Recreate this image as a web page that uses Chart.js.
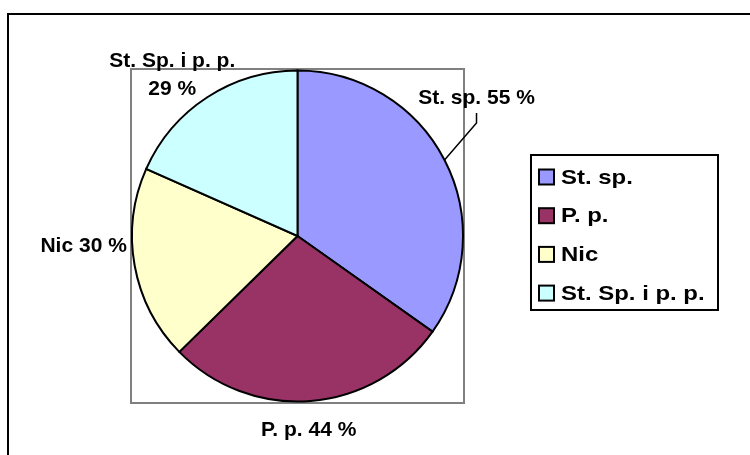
<!DOCTYPE html>
<html>
<head>
<meta charset="utf-8">
<script src="https://cdn.jsdelivr.net/npm/chart.js@4/dist/chart.umd.min.js"></script>
<style>
  html, body { margin: 0; padding: 0; background: #fff; }
  #wrap { width: 750px; height: 455px; position: relative; }
</style>
</head>
<body>
<div id="wrap"><canvas id="pieChart" width="750" height="455"></canvas></div>
<script>
const categories = ['St. sp.', 'P. p.', 'Nic', 'St. Sp. i p. p.'];
const counts = [55, 44, 30, 29];
const sliceColors = ['#9999FF', '#993366', '#FFFFCC', '#CCFFFF'];

const FONT = 'bold 21px "Liberation Sans", Arial, sans-serif';

// frame, plot box, legend and labels drawn by hand
const decor = {
  id: 'decor',
  beforeDraw(chart) {
    const c = chart.ctx;
    const a = chart.chartArea;
    c.save();
    c.fillStyle = '#fff';
    c.fillRect(0, 0, chart.width, chart.height);
    c.strokeStyle = '#000';
    c.lineWidth = 2;
    c.strokeRect(8, 14, 760, 460);
    c.strokeStyle = '#808080';
    c.lineWidth = 2;
    c.strokeRect(a.left, a.top, a.right - a.left, a.bottom - a.top);
    c.restore();
  },
  afterDraw(chart) {
    const c = chart.ctx;
    const arcs = chart.getDatasetMeta(0).data;
    const nudge = [[32, -62], [-2, 29], [-51, -19], [-35, -22]];
    c.save();
    c.font = FONT;
    c.fillStyle = '#000';
    c.textAlign = 'center';
    c.textBaseline = 'middle';
    arcs.forEach((arc, i) => {
      const mid = (arc.startAngle + arc.endAngle) / 2;
      const ex = arc.x + Math.cos(mid) * arc.outerRadius;
      const ey = arc.y + Math.sin(mid) * arc.outerRadius;
      const lx = ex + nudge[i][0];
      const ly = ey + nudge[i][1];
      const txt = counts[i] + ' %';
      if (i === 3) {
        c.fillText(categories[i], lx, ly - 14);
        c.fillText(txt, lx, ly + 14);
      } else {
        c.fillText(categories[i] + ' ' + txt, lx, ly);
      }
      if (i === 0) {
        c.strokeStyle = '#000';
        c.lineWidth = 1.5;
        c.beginPath();
        c.moveTo(lx, ly + 15);
        c.lineTo(lx, ly + 25);
        c.lineTo(ex, ey);
        c.stroke();
      }
    });

    // legend
    const bx = 531, by = 155, bw = 187, bh = 155;
    c.strokeStyle = '#000';
    c.lineWidth = 2;
    c.strokeRect(bx, by, bw, bh);
    c.textAlign = 'left';
    categories.forEach((name, i) => {
      const cy = by + 22 + i * 38.7;
      c.fillStyle = sliceColors[i];
      c.fillRect(539, cy - 7.5, 15, 15);
      c.strokeStyle = '#000';
      c.lineWidth = 2;
      c.strokeRect(539, cy - 7.5, 15, 15);
      c.fillStyle = '#000';
      c.save();
      c.translate(561, cy + 1);
      c.scale(1.14, 1);
      c.fillText(name, 0, 0);
      c.restore();
    });
    c.restore();
  }
};

new Chart(document.getElementById('pieChart'), {
  type: 'pie',
  data: {
    labels: categories,
    datasets: [{
      data: counts,
      backgroundColor: sliceColors,
      borderColor: '#000',
      borderWidth: 2,
      borderJoinStyle: 'miter'
    }]
  },
  options: {
    responsive: false,
    animation: false,
    layout: {padding: {left: 131, top: 69, right: 286, bottom: 52}},
    plugins: {
      legend: {display: false},
      tooltip: {enabled: false}
    }
  },
  plugins: [decor]
});
</script>
</body>
</html>
